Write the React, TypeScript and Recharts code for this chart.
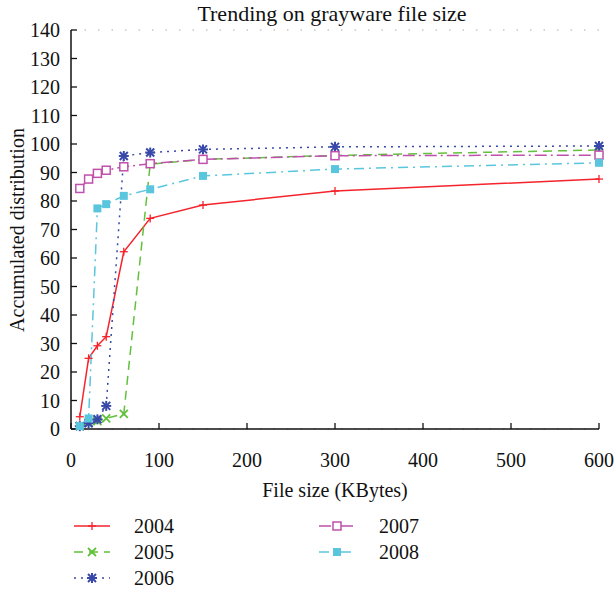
import { CartesianGrid, Customized, Line, LineChart, XAxis, YAxis } from "recharts";

const FILE_SIZES = [10, 20, 30, 40, 60, 90, 150, 300, 600];
const YEARS = ["2004", "2005", "2006", "2007", "2008"];
const S2004 = [4.3, 24.8, 29.2, 32.4, 62.2, 73.9, 78.6, 83.5, 87.7];
const S2005 = [1.0, 2.2, 2.8, 3.7, 5.3, 92.9, 94.6, 96.0, 97.9];
const S2006 = [1.0, 2.0, 3.4, 8.1, 95.8, 97.0, 98.1, 99.0, 99.3];
const S2007 = [84.4, 87.7, 89.7, 90.8, 92.0, 93.1, 94.6, 95.9, 96.1];
const S2008 = [1.0, 3.7, 77.4, 78.9, 81.8, 84.1, 88.8, 91.2, 93.4];
const X_TICKS = [0, 100, 200, 300, 400, 500, 600];
const Y_TICKS = [0, 10, 20, 30, 40, 50, 60, 70, 80, 90, 100, 110, 120, 130, 140];

const FONT = "Liberation Serif, DejaVu Serif, serif";

type Shape = "plus" | "cross" | "star" | "openSquare" | "square";

interface SeriesStyle {
  values: number[];
  color: string;
  dash?: string;
  shape: Shape;
}

const SERIES: SeriesStyle[] = [
  { values: S2004, color: "#f5232b", shape: "plus" },
  { values: S2005, color: "#62c13c", dash: "9 6", shape: "cross" },
  { values: S2006, color: "#3848a8", dash: "2 5", shape: "star" },
  { values: S2007, color: "#c050ac", dash: "12 4 2 4", shape: "openSquare" },
  { values: S2008, color: "#5ac6de", dash: "10 5 2 5", shape: "square" },
];

const rows = FILE_SIZES.map((size, i) => {
  const row: Record<string, number> = { size };
  YEARS.forEach((y, k) => {
    row[y] = SERIES[k].values[i];
  });
  return row;
});

function Marker({ cx, cy, shape, color }: { cx: number; cy: number; shape: Shape; color: string }) {
  const r = 4;
  if (shape === "plus")
    return (
      <g stroke={color} strokeWidth={1.3}>
        <line x1={cx - r} y1={cy} x2={cx + r} y2={cy} />
        <line x1={cx} y1={cy - r} x2={cx} y2={cy + r} />
      </g>
    );
  if (shape === "cross")
    return (
      <g stroke={color} strokeWidth={1.8}>
        <line x1={cx - r} y1={cy - r} x2={cx + r} y2={cy + r} />
        <line x1={cx - r} y1={cy + r} x2={cx + r} y2={cy - r} />
        <line x1={cx} y1={cy - 1.5} x2={cx} y2={cy + 1.5} />
      </g>
    );
  if (shape === "star")
    return (
      <g stroke={color} strokeWidth={2}>
        <line x1={cx - r} y1={cy - r} x2={cx + r} y2={cy + r} />
        <line x1={cx - r} y1={cy + r} x2={cx + r} y2={cy - r} />
        <line x1={cx - r - 1} y1={cy} x2={cx + r + 1} y2={cy} />
        <line x1={cx} y1={cy - r - 1} x2={cx} y2={cy + r + 1} />
      </g>
    );
  if (shape === "openSquare")
    return <rect x={cx - 4} y={cy - 4} width={8} height={8} fill="#fff" stroke={color} strokeWidth={1.5} />;
  return <rect x={cx - 4} y={cy - 4} width={8} height={8} fill={color} stroke="none" />;
}

const textStyle = { fontFamily: FONT };

function Texts() {
  const left = [0, 1, 2];
  const right = [3, 4];
  const rowY = [526, 552, 578];
  const entry = (k: number, lx: number, y: number) => {
    const s = SERIES[k];
    return (
      <g key={YEARS[k]}>
        <line x1={lx} y1={y} x2={lx + 36} y2={y} stroke={s.color} strokeWidth={1.5} strokeDasharray={s.dash} />
        <Marker cx={lx + 18} cy={y} shape={s.shape} color={s.color} />
        <text x={lx + 60} y={y + 6.5} style={textStyle} fontSize={20} fill="#111">
          {YEARS[k]}
        </text>
      </g>
    );
  };
  return (
    <g>
      <text x={332} y={21} textAnchor="middle" style={textStyle} fontSize={22} fill="#111">
        Trending on grayware file size
      </text>
      <text x={335} y={497} textAnchor="middle" style={textStyle} fontSize={20} fill="#111">
        File size (KBytes)
      </text>
      <text
        x={0}
        y={0}
        transform="translate(24,230) rotate(-90)"
        textAnchor="middle"
        style={textStyle}
        fontSize={20}
        fill="#111"
      >
        Accumulated distribution
      </text>
      {left.map((k, i) => entry(k, 74, rowY[i]))}
      {right.map((k, i) => entry(k, 319, rowY[i]))}
    </g>
  );
}

const tickStyle = { fontSize: 20, fill: "#111", style: textStyle };
const axisLine = { stroke: "#111", strokeWidth: 1.5 };
const tickLine = { stroke: "#111", strokeWidth: 1.3 };

export default function App() {
  return (
    <div
      style={{
        position: "absolute",
        left: 0,
        top: 0,
        width: 614,
        height: 590,
        background: "#fff",
        fontFamily: FONT,
      }}
    >
      <LineChart
        width={614}
        height={590}
        data={rows}
        margin={{ top: 30, right: 15, left: 21, bottom: 131 }}
        style={textStyle}
      >
        <CartesianGrid vertical={false} stroke="#aaa" strokeDasharray="1.5 12" />
        <XAxis
          xAxisId="bottom"
          dataKey="size"
          type="number"
          domain={[0, 600]}
          ticks={X_TICKS}
          height={30}
          tickSize={-6}
          tickMargin={30}
          tick={tickStyle}
          axisLine={axisLine}
          tickLine={tickLine}
          interval={0}
        />
        <XAxis
          xAxisId="top"
          orientation="top"
          dataKey="size"
          type="number"
          domain={[0, 600]}
          ticks={X_TICKS}
          height={0}
          tickSize={-6}
          tickFormatter={() => ""}
          axisLine={axisLine}
          tickLine={tickLine}
          interval={0}
        />
        <YAxis
          yAxisId="left"
          type="number"
          domain={[0, 140]}
          ticks={Y_TICKS}
          width={50}
          tickSize={-6}
          tickMargin={17}
          tick={tickStyle}
          axisLine={axisLine}
          tickLine={tickLine}
          interval={0}
        />
        <YAxis
          yAxisId="right"
          orientation="right"
          type="number"
          domain={[0, 140]}
          ticks={Y_TICKS}
          width={0}
          tickSize={-6}
          tickFormatter={() => ""}
          axisLine={axisLine}
          tickLine={tickLine}
          interval={0}
        />
        {SERIES.map((s, k) => (
          <Line
            key={YEARS[k]}
            xAxisId="bottom"
            yAxisId="left"
            type="linear"
            dataKey={YEARS[k]}
            stroke={s.color}
            strokeWidth={1.5}
            strokeDasharray={s.dash}
            isAnimationActive={false}
            dot={(p: any) => <Marker key={`${k}-${p.index}`} cx={p.cx} cy={p.cy} shape={s.shape} color={s.color} />}
            activeDot={false}
          />
        ))}
        <Customized component={Texts} />
      </LineChart>
    </div>
  );
}
